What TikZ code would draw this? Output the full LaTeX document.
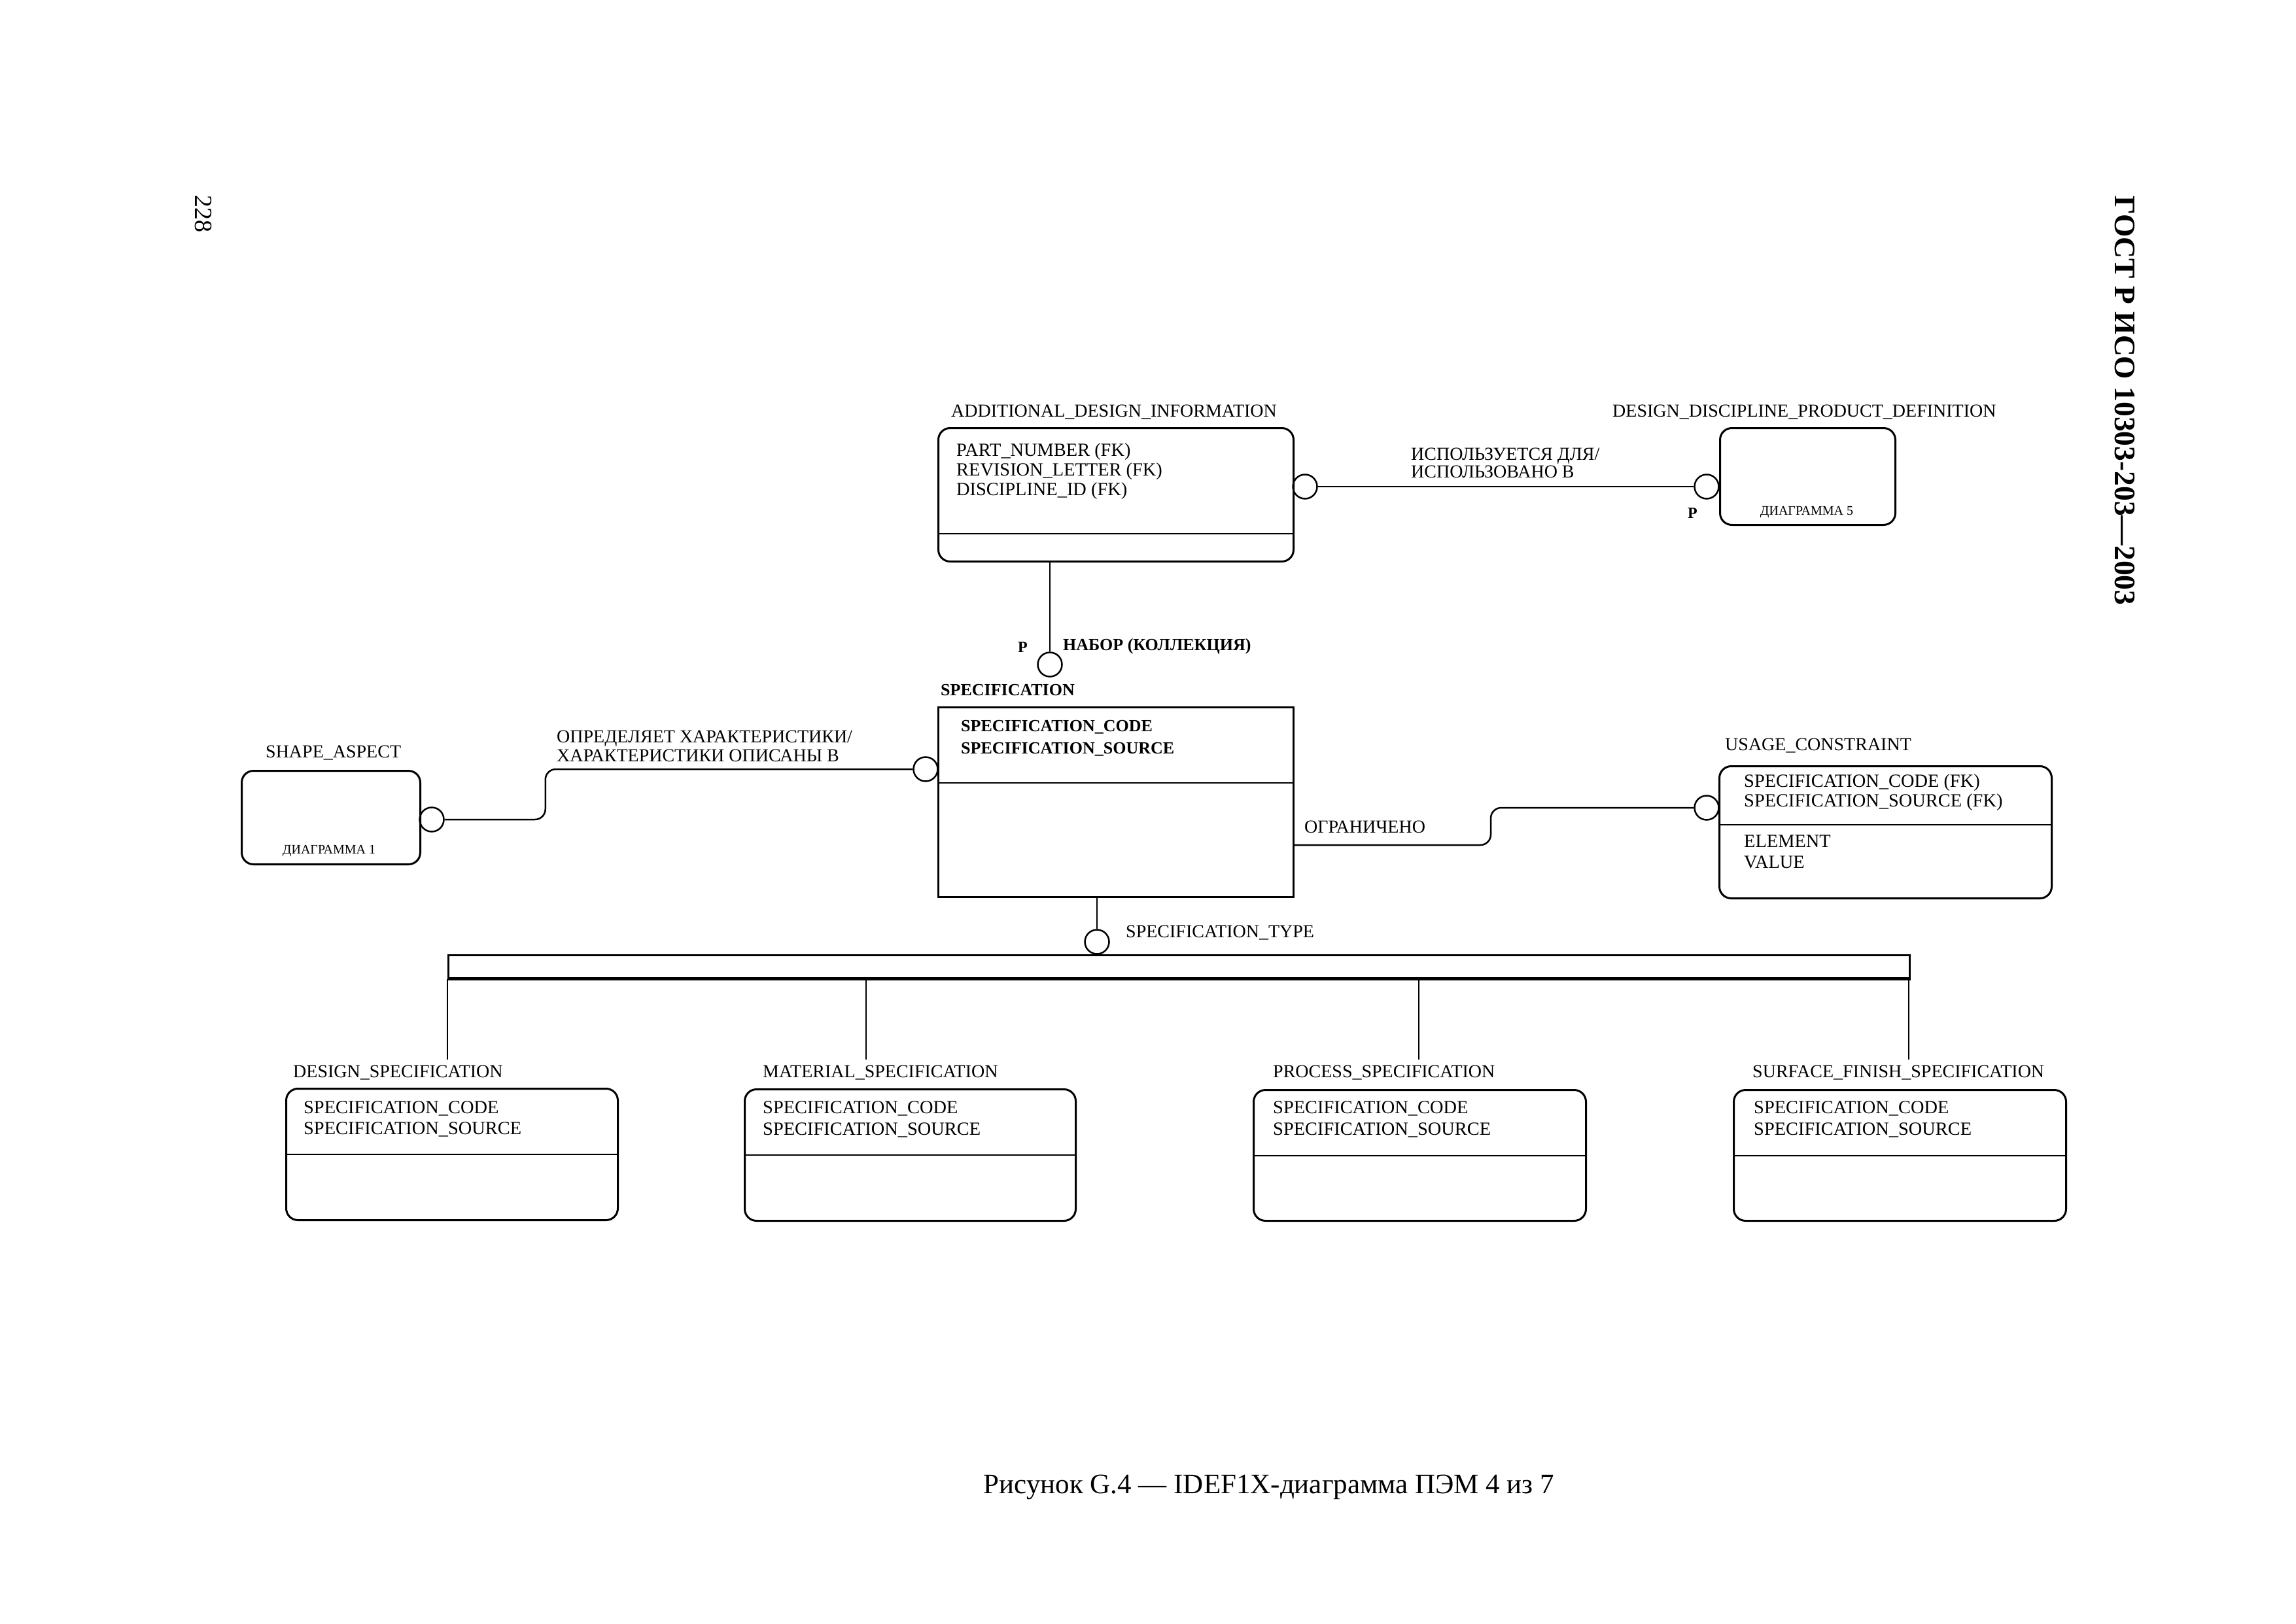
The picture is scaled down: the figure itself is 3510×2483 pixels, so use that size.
\documentclass[tikz,border=0pt]{standalone}
\usepackage{fontspec}
\setmainfont{Liberation Serif}
\begin{document}
\begin{tikzpicture}[x=1pt,y=-1pt,
  ebox/.style={draw, line width=3pt, rounded corners=18pt, inner sep=0pt, anchor=north west},
  ibox/.style={draw, line width=3pt, inner sep=0pt, anchor=north west},
  rel/.style={draw, circle, line width=2.5pt, minimum size=37pt, inner sep=0pt},
  conn/.style={line width=2.5pt},
  lbl/.style={anchor=base west, inner sep=0pt, font=\fontsize{28}{30}\selectfont},
  blbl/.style={anchor=base west, inner sep=0pt, font=\fontsize{26}{30}\selectfont\bfseries},
  att/.style={anchor=base west, inner sep=0pt, font=\fontsize{28.4}{30}\selectfont},
  small/.style={anchor=base, inner sep=0pt, font=\fontsize{20}{22}\selectfont}]
\useasboundingbox (0,0) rectangle (3510,2483);

% entity boxes
\node[ebox, minimum width=543pt, minimum height=204pt] (adi) at (1433,653) {};
\node[ebox, minimum width=268pt, minimum height=148pt] (ddpd) at (2628,653) {};
\node[ibox, minimum width=543pt, minimum height=290pt] (spec) at (1433,1080) {};
\node[ebox, minimum width=273pt, minimum height=143pt] (sa) at (368,1177) {};
\node[ebox, minimum width=508pt, minimum height=202pt] (uc) at (2627,1170) {};
\node[ebox, minimum width=507pt, minimum height=201pt] (ds) at (436,1663) {};
\node[ebox, minimum width=506pt, minimum height=201pt] (ms) at (1137,1664) {};
\node[ebox, minimum width=508pt, minimum height=200pt] (ps) at (1915,1665) {};
\node[ebox, minimum width=508pt, minimum height=200pt] (sfs) at (2649,1665) {};

% dividers
\coordinate (adiD) at (0,816);
\coordinate (specD) at (0,1197);
\coordinate (ucD) at (0,1261);
\coordinate (dsD) at (0,1765);
\coordinate (msD) at (0,1766);
\coordinate (psD) at (0,1767);
\draw[conn] (adi.west |- adiD) -- (adi.east |- adiD);
\draw[conn] (spec.west |- specD) -- (spec.east |- specD);
\draw[conn] (uc.west |- ucD) -- (uc.east |- ucD);
\draw[conn] (ds.west |- dsD) -- (ds.east |- dsD);
\draw[conn] (ms.west |- msD) -- (ms.east |- msD);
\draw[conn] (ps.west |- psD) -- (ps.east |- psD);
\draw[conn] (sfs.west |- psD) -- (sfs.east |- psD);

% relationship circles
\node[rel] (adic) at (1995,744) {};
\node[rel] (ddpdc) at (2609,744) {};
\node[rel] (setc) at (1605,1016) {};
\node[rel] (specc) at (1415,1176) {};
\node[rel] (sac) at (660,1253) {};
\node[rel] (ucc) at (2609,1235) {};
\node[rel] (catc) at (1677,1440) {};

% connectors
\draw[conn] (adic.east) -- (ddpdc.west);
\draw[conn] (adi.south -| setc) -- (setc.north);
\draw[conn, rounded corners=16pt] (sac.east) -- ++(154,0) |- (specc.west);
\coordinate (ogr) at (1976,1292);
\draw[conn, rounded corners=16pt] (ogr) -- ++(303,0) |- (ucc.west);
\draw[conn] (spec.south -| catc) -- (catc.north);

% category bar
\node[draw, line width=2.5pt, minimum width=2234pt, minimum height=35pt, inner sep=0pt, anchor=north west] (bar) at (684,1459) {};
\draw[line width=5pt] (bar.south west) -- (bar.south east);
\coordinate (t1) at (684,1620);
\coordinate (t2) at (1324,1620);
\coordinate (t3) at (2169,1620);
\coordinate (t4) at (2918,1620);
\draw[conn] (t1 |- bar.south) -- (t1);
\draw[conn] (t2 |- bar.south) -- (t2);
\draw[conn] (t3 |- bar.south) -- (t3);
\draw[conn] (t4 |- bar.south) -- (t4);

% titles
\node[lbl] (adiT) at (1454,637) {ADDITIONAL\_DESIGN\_INFORMATION};
\node[lbl] (ddpdT) at (2465,637) {DESIGN\_DISCIPLINE\_PRODUCT\_DEFINITION};
\node[blbl] (specT) at (1438,1063) {SPECIFICATION};
\node[lbl] (saT) at (406,1158) {SHAPE\_ASPECT};
\node[lbl] (ucT) at (2637,1147) {USAGE\_CONSTRAINT};
\node[lbl] (dsT) at (448,1647) {DESIGN\_SPECIFICATION};
\node[lbl] (msT) at (1166,1647) {MATERIAL\_SPECIFICATION};
\node[lbl] (psT) at (1946,1647) {PROCESS\_SPECIFICATION};
\node[lbl] (sfsT) at (2679,1647) {SURFACE\_FINISH\_SPECIFICATION};

% attributes
\node[att] (a1) at (1462,697) {PART\_NUMBER (FK)};
\node[att] (a2) at (1462,727) {REVISION\_LETTER (FK)};
\node[att] (a3) at (1462,757) {DISCIPLINE\_ID (FK)};
\node[small] (dg5) at (2762,787) {ДИАГРАММА 5};
\node[small] (dg1) at (503,1305) {ДИАГРАММА 1};
\node[blbl] (s1) at (1469,1118) {SPECIFICATION\_CODE};
\node[blbl] (s2) at (1469,1152) {SPECIFICATION\_SOURCE};
\node[att] (u1) at (2666,1203) {SPECIFICATION\_CODE (FK)};
\node[att] (u2) at (2666,1233) {SPECIFICATION\_SOURCE (FK)};
\node[att] (u3) at (2666,1295) {ELEMENT};
\node[att] (u4) at (2666,1327) {VALUE};
\node[att] (d1) at (464,1702) {SPECIFICATION\_CODE};
\node[att] (d2) at (464,1734) {SPECIFICATION\_SOURCE};
\node[att] (m1) at (1166,1702) {SPECIFICATION\_CODE};
\node[att] (m2) at (1166,1735) {SPECIFICATION\_SOURCE};
\node[att] (p1) at (1946,1702) {SPECIFICATION\_CODE};
\node[att] (p2) at (1946,1735) {SPECIFICATION\_SOURCE};
\node[att] (f1) at (2681,1702) {SPECIFICATION\_CODE};
\node[att] (f2) at (2681,1735) {SPECIFICATION\_SOURCE};

% relationship labels
\node[lbl] (r1a) at (2157,703) {ИСПОЛЬЗУЕТСЯ ДЛЯ/};
\node[lbl] (r1b) at (2157,730) {ИСПОЛЬЗОВАНО В};
\node[anchor=base west, inner sep=0pt, font=\fontsize{24}{26}\selectfont\bfseries] (p1l) at (2580,792) {P};
\node[anchor=base west, inner sep=0pt, font=\fontsize{24}{26}\selectfont\bfseries] (p2l) at (1556,997) {P};
\node[blbl] (r2) at (1625,994) {НАБОР (КОЛЛЕКЦИЯ)};
\node[lbl] (r3a) at (851,1135) {ОПРЕДЕЛЯЕТ ХАРАКТЕРИСТИКИ/};
\node[lbl] (r3b) at (851,1164) {ХАРАКТЕРИСТИКИ ОПИСАНЫ В};
\node[lbl] (r4) at (1994,1273) {ОГРАНИЧЕНО};
\node[lbl] (r5) at (1721,1433) {SPECIFICATION\_TYPE};

% page furniture
\node[anchor=base west, inner sep=0pt, rotate=-90, font=\fontsize{38}{40}\selectfont] (pg) at (298,298) {228};
\node[anchor=base west, inner sep=0pt, rotate=-90, font=\fontsize{45.5}{48}\selectfont\bfseries] (hdr) at (3233,299) {ГОСТ Р ИСО 10303-203—2003};
\node[anchor=base, inner sep=0pt, font=\fontsize{43}{46}\selectfont] (cap) at (1940,2283) {Рисунок G.4 — IDEF1X-диаграмма ПЭМ 4 из 7};
\end{tikzpicture}
\end{document}
